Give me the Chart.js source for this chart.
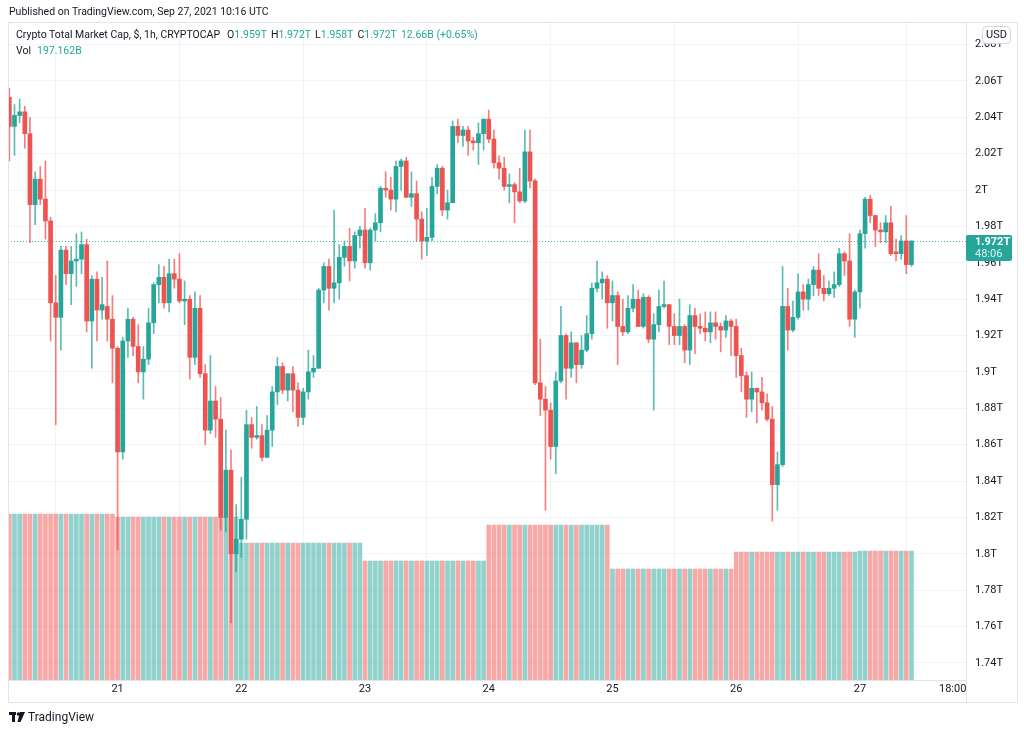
<!DOCTYPE html>
<html>
<head>
<meta charset="utf-8">
<script src="https://cdn.jsdelivr.net/npm/chart.js@4.4.0/dist/chart.umd.min.js"></script>
<style>
html,body{margin:0;padding:0;background:#fff;width:1024px;height:732px;overflow:hidden;font-family:Roboto,"Liberation Sans",sans-serif;}
#wrap{position:relative;width:1024px;height:732px;}
canvas{position:absolute;left:0;top:0;}
.t{position:absolute;white-space:nowrap;font-size:10.5px;color:#131722;line-height:13px;}
.v{color:#26a69a;}
.g{margin-left:4px;}
#logo{position:absolute;left:9px;top:710px;font-size:12px;color:#131722;display:flex;align-items:center;gap:3px;}
</style>
</head>
<body>
<div id="wrap">
<canvas id="c" width="1024" height="732"></canvas>
<div class="t" style="left:9px;top:5px;">Published on TradingView.com, Sep 27, 2021 10:16 UTC</div>
<div class="t" id="legend1" style="left:16px;top:28px;"></div>
<div class="t" id="legend2" style="left:16px;top:44px;"></div>
<div id="logo"><svg width="16" height="11" viewBox="0 0 16 11"><rect x="0" y="0" width="7" height="3" fill="#131722"/><rect x="3" y="0" width="3" height="10" fill="#131722"/><circle cx="9.5" cy="2" r="1.8" fill="#131722"/><polygon points="11,0 16,0 11.5,10 8.5,10" fill="#131722"/></svg><span>TradingView</span></div>
</div>
<script>
// ---- data (hours counted from Sep 20 00:00 UTC; one candle per hour) ----
const firstCandleHour = 3; // Sep 20 03:00
const opens = [
2.051,2.035,2.041,2.043,2.031,1.992,2.006,1.995,1.983,1.938,1.930,1.967,1.954,1.961,1.962,1.970,1.928,1.951,1.934,1.936,1.929,
1.913,1.856,1.917,1.929,1.914,1.900,1.907,1.927,1.948,1.952,1.938,1.954,1.951,1.939,1.940,1.908,1.935,1.899,1.868,1.884,1.874,1.820,1.846,1.800,
1.808,1.819,1.871,1.864,1.865,1.853,1.868,1.889,1.903,1.890,1.899,1.890,1.875,1.889,1.900,1.902,1.945,1.958,1.946,1.949,1.963,1.969,1.961,1.975,
1.978,1.960,1.978,1.982,2.001,2.000,1.995,2.013,2.016,1.996,1.998,1.984,1.972,1.974,2.002,2.012,1.989,1.993,2.035,2.030,2.033,2.027,2.026,2.031,
2.039,2.028,2.015,2.012,2.002,2.003,1.999,1.994,2.021,2.005,1.894,1.885,1.879,1.859,1.895,1.920,1.902,1.916,1.904,1.912,1.921,1.946,1.949,1.951,
1.938,1.942,1.925,1.922,1.935,1.940,1.925,1.941,1.918,1.926,1.936,1.937,1.925,1.920,1.925,1.912,1.931,1.925,1.924,1.922,1.927,1.925,1.923,1.928,
1.925,1.909,1.898,1.885,1.891,1.889,1.883,1.874,1.838,1.849,1.936,1.923,1.930,1.944,1.940,1.948,1.956,1.946,1.943,1.946,1.948,1.965,1.961,1.929,
1.944,1.976,1.995,1.986,1.978,1.977,1.982,1.966,1.965,1.972,1.959
];
const highs = [
2.056,2.047,2.050,2.046,2.040,2.010,2.013,2.016,1.985,1.953,1.969,1.969,1.969,1.976,1.977,1.973,1.953,1.955,1.952,1.961,1.942,
1.914,1.919,1.935,1.930,1.926,1.914,1.935,1.949,1.959,1.958,1.962,1.962,1.965,1.950,1.942,1.944,1.942,1.904,1.909,1.892,1.886,1.868,1.857,1.827,
1.842,1.879,1.875,1.881,1.871,1.876,1.892,1.908,1.905,1.899,1.903,1.894,1.891,1.912,1.909,1.946,1.960,1.962,1.989,1.970,1.972,1.979,1.977,1.980,
1.990,1.979,1.987,2.002,2.010,2.007,2.016,2.017,2.018,2.010,2.005,1.988,1.990,2.007,2.014,2.013,2.000,2.038,2.039,2.035,2.035,2.029,2.037,2.039,
2.044,2.033,2.019,2.018,2.009,2.004,2.012,2.033,2.033,2.006,1.918,1.892,1.883,1.900,1.936,1.921,1.922,1.916,1.920,1.931,1.949,1.961,1.955,1.953,
1.950,1.944,1.940,1.942,1.948,1.945,1.943,1.942,1.932,1.945,1.950,1.937,1.932,1.940,1.926,1.937,1.935,1.932,1.933,1.933,1.933,1.927,1.931,1.929,
1.929,1.913,1.900,1.900,1.891,1.897,1.888,1.881,1.856,1.958,1.946,1.939,1.954,1.948,1.951,1.958,1.965,1.953,1.950,1.955,1.968,1.966,1.976,1.945,
1.978,1.996,1.997,1.986,1.982,1.986,1.991,1.973,1.975,1.986,1.972
];
const lows = [
2.016,2.019,2.037,2.023,1.971,1.981,1.992,1.973,1.917,1.871,1.912,1.948,1.937,1.947,1.954,1.922,1.902,1.917,1.929,1.917,1.894,
1.802,1.852,1.908,1.909,1.894,1.885,1.904,1.921,1.938,1.935,1.933,1.946,1.938,1.926,1.896,1.904,1.897,1.860,1.866,1.864,1.813,1.812,1.762,1.790,
1.798,1.808,1.858,1.863,1.851,1.853,1.859,1.882,1.888,1.884,1.878,1.870,1.871,1.885,1.897,1.902,1.938,1.934,1.938,1.940,1.958,1.950,1.957,1.968,
1.957,1.956,1.972,1.977,1.996,1.989,1.988,2.000,1.996,1.991,1.972,1.962,1.964,1.972,1.998,1.986,1.984,1.993,2.026,2.024,2.019,2.022,2.014,2.022,
2.026,2.012,2.006,2.000,1.993,1.982,1.993,1.993,2.001,1.893,1.876,1.824,1.852,1.844,1.894,1.885,1.897,1.894,1.902,1.911,1.918,1.944,1.940,1.924,
1.928,1.904,1.920,1.921,1.933,1.925,1.924,1.916,1.879,1.922,1.935,1.915,1.915,1.915,1.905,1.904,1.910,1.921,1.917,1.916,1.918,1.911,1.919,1.909,
1.897,1.889,1.875,1.878,1.872,1.879,1.873,1.818,1.824,1.848,1.912,1.922,1.929,1.934,1.934,1.942,1.942,1.939,1.942,1.941,1.947,1.953,1.925,1.919,
1.935,1.968,1.982,1.969,1.971,1.971,1.964,1.961,1.962,1.954,1.958
];
const closes = [
2.035,2.041,2.043,2.031,1.992,2.006,1.995,1.983,1.938,1.930,1.967,1.954,1.961,1.962,1.970,1.928,1.951,1.934,1.937,1.929,1.913,
1.856,1.917,1.929,1.914,1.900,1.907,1.927,1.948,1.952,1.938,1.954,1.951,1.939,1.940,1.908,1.935,1.899,1.868,1.884,1.874,1.820,1.846,1.800,1.808,
1.819,1.871,1.864,1.865,1.853,1.868,1.889,1.903,1.890,1.899,1.890,1.875,1.889,1.900,1.902,1.945,1.958,1.946,1.949,1.963,1.969,1.961,1.975,1.978,
1.960,1.978,1.982,2.001,2.000,1.995,2.013,2.016,1.996,1.998,1.984,1.972,1.974,2.002,2.012,1.989,1.993,2.035,2.030,2.033,2.027,2.026,2.031,2.039,
2.028,2.015,2.012,2.002,2.003,1.999,1.994,2.021,2.005,1.894,1.885,1.879,1.859,1.895,1.920,1.902,1.916,1.904,1.912,1.921,1.946,1.949,1.951,1.938,
1.942,1.925,1.922,1.935,1.940,1.925,1.941,1.918,1.926,1.936,1.937,1.925,1.920,1.925,1.912,1.931,1.925,1.924,1.922,1.927,1.925,1.923,1.928,1.925,
1.909,1.898,1.885,1.891,1.889,1.883,1.874,1.838,1.849,1.936,1.923,1.930,1.944,1.940,1.948,1.956,1.946,1.943,1.946,1.948,1.965,1.961,1.929,1.944,
1.976,1.995,1.986,1.978,1.977,1.982,1.965,1.965,1.972,1.959,1.972
];
// daily volume (billions USD) shown on every hourly bar of that day: Sep 20 .. Sep 27
const dayVolumes = [253.7, 249.1, 209.4, 181.9, 236.9, 169.7, 195.6, 197.162];
// axis ticks
const priceTicks = [1.74,1.76,1.78,1.80,1.82,1.84,1.86,1.88,1.90,1.92,1.94,1.96,1.98,2.00,2.02,2.04,2.06,2.08];
const priceTickLabels = ['1.74T','1.76T','1.78T','1.8T','1.82T','1.84T','1.86T','1.88T','1.9T','1.92T','1.94T','1.96T','1.98T','2T','2.02T','2.04T','2.06T','2.08T'];
const timeTicks = [24,48,72,96,120,144,168,186];
const timeTickLabels = ['21','22','23','24','25','26','27','18:00'];
const legendText = {name:'Crypto Total Market Cap, $, 1h, CRYPTOCAP', change:'12.66B (+0.65%)', vol:'197.162B', countdown:'48:06'};

// ---- build ----
const UP = '#26a69a', DOWN = '#ef5350';
const UPW = 'rgba(38,166,154,0.75)', DOWNW = 'rgba(239,83,80,0.75)';
const UPV = 'rgba(38,166,154,0.5)', DOWNV = 'rgba(239,83,80,0.5)';
const n = closes.length;
const xs = closes.map((c,i)=>firstCandleHour+i);
const isUp = closes.map((c,i)=>c>=opens[i]);
const last = n-1;

document.getElementById('legend1').innerHTML = '<span>'+legendText.name+'</span>' +
 '<span class="g" style="margin-left:7px">O<span class="v">'+opens[last]+'T</span></span>' +
 '<span class="g">H<span class="v">'+highs[last]+'T</span></span>' +
 '<span class="g">L<span class="v">'+lows[last]+'T</span></span>' +
 '<span class="g">C<span class="v">'+closes[last]+'T</span></span>' +
 '<span class="g v">'+legendText.change+'</span>';
document.getElementById('legend2').innerHTML = 'Vol<span class="g v" style="margin-left:6px">'+legendText.vol+'</span>';

Chart.defaults.font.family = 'Roboto, "Liberation Sans", sans-serif';
Chart.defaults.font.size = 11;
Chart.defaults.color = '#131722';

const chartLeft = 8, chartTop = 22, chartRight = 966, chartBottom = 680, frameBottom = 702, frameRight = 1017;

const overlay = {
  id:'overlay',
  beforeDatasetsDraw(chart){
    const {ctx, chartArea:a, scales:{y}} = chart;
    const py = Math.round(y.getPixelForValue(closes[last]))+0.5;
    ctx.save();
    ctx.strokeStyle = 'rgba(38,166,154,0.85)'; ctx.lineWidth = 1; ctx.setLineDash([1,2]);
    ctx.beginPath(); ctx.moveTo(a.left, py); ctx.lineTo(a.right, py); ctx.stroke();
    ctx.restore();
  },
  afterDraw(chart){
    const {ctx, chartArea:a, scales:{y}} = chart;
    ctx.save();
    ctx.strokeStyle = '#e0e3eb'; ctx.lineWidth = 1;
    ctx.beginPath();
    ctx.rect(chartLeft+0.5, chartTop+0.5, frameRight-chartLeft, frameBottom-chartTop);
    ctx.moveTo(a.right+0.5, chartTop); ctx.lineTo(a.right+0.5, frameBottom);
    ctx.moveTo(chartLeft, a.bottom+0.5); ctx.lineTo(a.right, a.bottom+0.5);
    ctx.stroke();
    // USD box
    ctx.fillStyle = '#fff'; ctx.strokeStyle = '#d1d4dc';
    ctx.beginPath(); ctx.roundRect(982.5, 26.5, 28, 17, 4); ctx.fill(); ctx.stroke();
    ctx.fillStyle = '#131722'; ctx.font = '11px Roboto, sans-serif'; ctx.textAlign='center'; ctx.textBaseline='middle';
    ctx.fillText('USD', 996.5, 35.5);
    // last price label
    const py = y.getPixelForValue(closes[last]);
    ctx.fillStyle = UP;
    ctx.beginPath(); ctx.roundRect(a.right, py-6, 46, 26, 2); ctx.fill();
    ctx.fillStyle = '#fff'; ctx.textAlign='left';
    ctx.font = 'bold 11px Roboto, sans-serif';
    ctx.fillText(closes[last]+'T', a.right+9, py+1);
    ctx.font = '11px Roboto, sans-serif';
    ctx.fillStyle = 'rgba(255,255,255,0.85)';
    ctx.fillText(legendText.countdown, a.right+9, py+13);
    ctx.restore();
  }
};

new Chart(document.getElementById('c'), {
  type:'bar',
  data:{
    datasets:[
      { label:'body', data: xs.map((x,i)=>({x, y:[opens[i], closes[i]]})),
        backgroundColor: isUp.map(u=>u?UP:DOWN), barThickness:4, minBarLength:1, grouped:false, order:1, yAxisID:'y' },
      { label:'wick', data: xs.map((x,i)=>({x, y:[lows[i], highs[i]]})),
        backgroundColor: isUp.map(u=>u?UPW:DOWNW), barThickness:1, grouped:false, order:2, yAxisID:'y' },
      { label:'volume', data: xs.map((x,i)=>({x, y: dayVolumes[Math.floor(x/24)]})),
        backgroundColor: isUp.map(u=>u?UPV:DOWNV), barThickness:4, grouped:false, order:3, yAxisID:'yv' }
    ]
  },
  options:{
    responsive:false, animation:false, events:[],
    layout:{ padding:{ left:chartLeft, top:chartTop, right:0, bottom:732-frameBottom } },
    plugins:{ legend:{display:false}, tooltip:{enabled:false} },
    scales:{
      x:{ type:'linear', min:2.74, max:188.58, offset:false,
          grid:{ color:'#f0f3fa', drawTicks:false },
          border:{ display:false },
          afterBuildTicks: s => { s.ticks = timeTicks.map(v=>({value:v})); },
          afterFit: s => { s.height = frameBottom - chartBottom; },
          ticks:{ autoSkip:false, maxRotation:0, padding:3, color:'#131722',
                  callback:(v,i)=>timeTickLabels[i] } },
      y:{ type:'linear', position:'right', min:1.7306, max:2.0924,
          grid:{ color:'#f0f3fa', drawTicks:false },
          border:{ display:false },
          afterBuildTicks: s => { s.ticks = priceTicks.map(v=>({value:v})); },
          afterFit: s => { s.width = 1024 - chartRight; },
          ticks:{ padding:9, color:'#131722', callback:(v,i)=>priceTickLabels[i] } },
      yv:{ type:'linear', display:false, min:0, max:1006 }
    }
  },
  plugins:[overlay]
});
</script>
</body>
</html>
